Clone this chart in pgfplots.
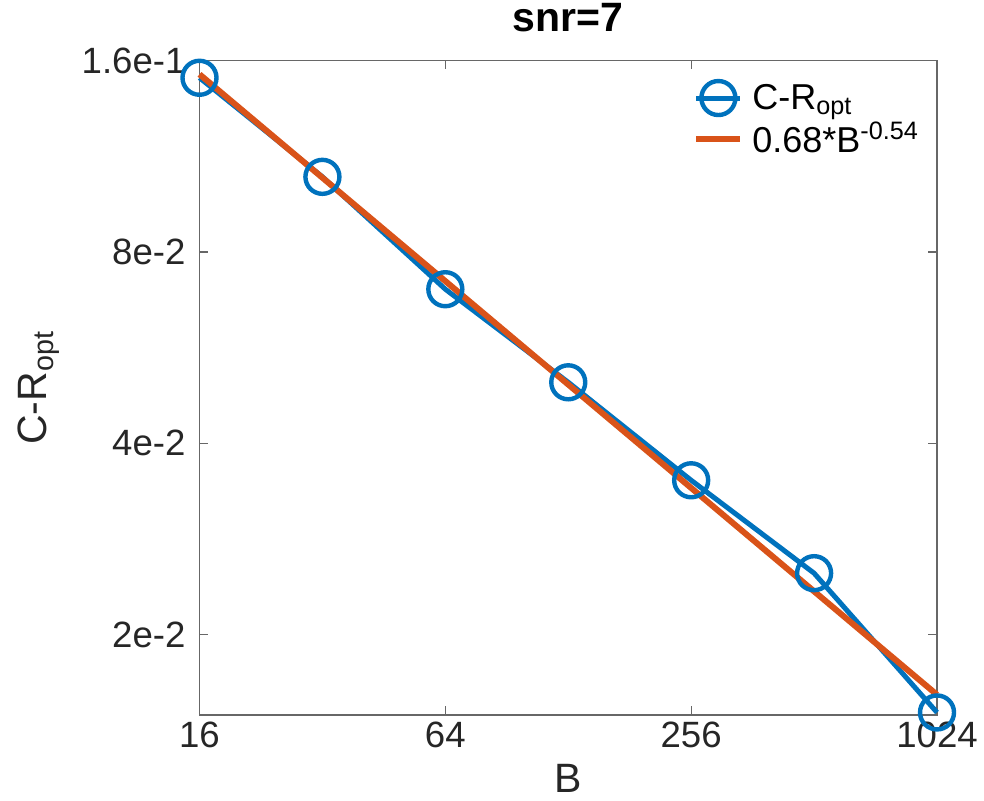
\documentclass[border=0pt]{standalone}
\usepackage{fontspec}
\setmainfont{Liberation Sans}
\usepackage{pgfplots}
\pgfplotsset{compat=1.18}
\definecolor{mblue}{rgb}{0,0.447,0.741}
\definecolor{morange}{rgb}{0.85,0.325,0.098}
\definecolor{axgray}{rgb}{0.15,0.15,0.15}
\begin{document}
\begin{tikzpicture}
\begin{axis}[
  scale only axis, width=368.75pt, height=327.25pt,
  xmode=log, ymode=log, log basis x=2, log basis y=2,
  xmin=16, xmax=1024, ymin=0.01496, ymax=0.16,
  xtick={16,64,256,1024}, xticklabels={16,64,256,1024},
  ytick={0.02,0.04,0.08,0.16}, yticklabels={2e-2,4e-2,8e-2,1.6e-1},
  minor xtick={}, minor ytick={},
  tick align=inside, major tick length=4.5pt,
  axis line style={draw=axgray!70, line width=0.6pt},
  tick style={axgray!70, line width=0.6pt},
  tick label style={font=\fontsize{18.3}{21}\selectfont, text=axgray},
  yticklabel style={xshift=-3.5pt},
  /pgf/number format/assume math mode=true,
  xlabel={B}, ylabel={C-R\textsubscript{opt}},
  label style={font=\fontsize{20.5}{24}\selectfont, text=axgray},
  xlabel style={at={(axis description cs:0.5,-0.119)}, anchor=base},
  ylabel style={at={(axis description cs:-0.2068,0.5)}, anchor=base},
  title={snr=7},
  title style={font=\fontsize{20.5}{24}\selectfont\bfseries, at={(axis description cs:0.5,1.0267)}, anchor=base},
  legend style={draw=none, fill=none, at={(axis description cs:0.661,0.977)}, anchor=north west,
    font=\fontsize{18}{21}\selectfont, row sep=1pt, nodes={inner xsep=4.5pt}},
  legend cell align=left,
  legend image code/.code={\draw[mark repeat=2,mark phase=2,#1] plot coordinates {(0pt,0pt)(11pt,0pt)(22pt,0pt)};},
  clip=false,
]
\addplot[color=mblue, line width=2.5pt, mark=o, mark size=8.5pt, mark options={line width=2.2pt}]
  coordinates {(16,0.1503) (32,0.105) (64,0.0699) (128,0.0499) (256,0.0350) (512,0.0250) (1024,0.0151)};
\addlegendentry{C-R\textsubscript{opt}}
\addplot[color=morange, line width=3pt]
  coordinates {(16,0.1522) (1024,0.0161)};
\addlegendentry{0.68*B\textsuperscript{-0.54}}
\coordinate (ll) at (rel axis cs:0,0);
\end{axis}
\pgfresetboundingbox
\path (ll) ++(-99.75pt,-42.5pt) rectangle ++(492pt,400pt);
\end{tikzpicture}
\end{document}
